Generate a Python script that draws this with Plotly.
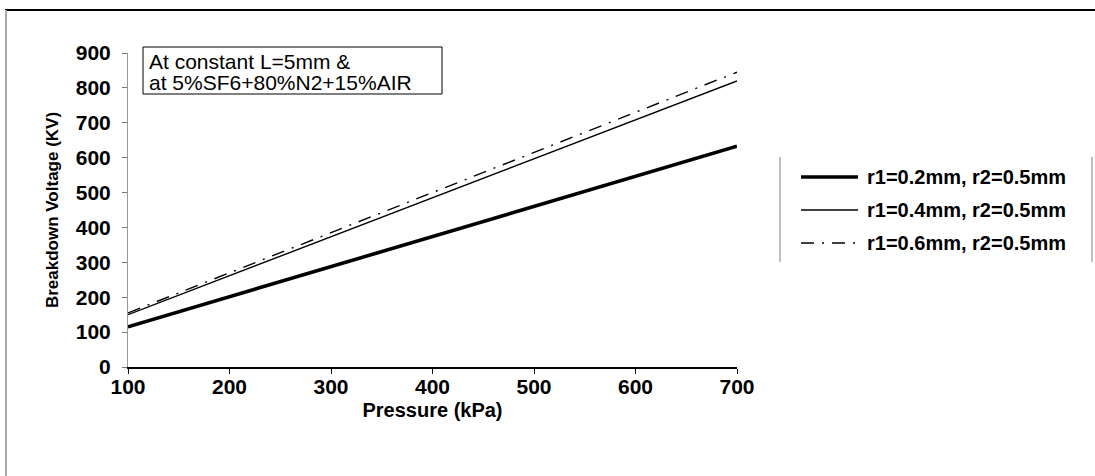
import plotly.graph_objects as go

pressure = [100, 200, 300, 400, 500, 600, 700]
v_r1_02 = [115, 201, 288, 374, 460, 547, 633]
v_r1_04 = [150, 262, 373, 485, 597, 708, 820]
v_r1_06 = [155, 270, 385, 500, 615, 730, 845]
names = ["r1=0.2mm, r2=0.5mm", "r1=0.4mm, r2=0.5mm", "r1=0.6mm, r2=0.5mm"]
note_lines = ["At constant L=5mm &", "at 5%SF6+80%N2+15%AIR"]

FONT = "Liberation Sans, Arial, sans-serif"

# plot area in px
L, R, T, B = 128, 737, 53, 367
W, H = 1095, 476
pw, ph = R - L, B - T


def px(x):
    return (x - L) / pw


def py(y):
    return (B - y) / ph


styles = [
    dict(color="black", width=3.6),
    dict(color="black", width=1.4),
    dict(color="black", width=1.4, dash="13px,8px,2px,8px"),
]
series = [v_r1_02, v_r1_04, v_r1_06]

fig = go.Figure()
for nm, ys, st in zip(names, series, styles):
    fig.add_trace(go.Scatter(x=pressure, y=ys, mode="lines", name=nm, line=st,
                             showlegend=False))

fig.update_layout(
    width=W, height=H,
    margin=dict(l=L, r=W - R, t=T, b=H - B),
    paper_bgcolor="white", plot_bgcolor="white",
    font=dict(family=FONT, color="black"),
    showlegend=False,
    xaxis=dict(range=[100, 700], tickvals=pressure, ticks="outside", ticklen=5,
               tickcolor="black", showline=True, linecolor="black", linewidth=2,
               showgrid=False, zeroline=False, ticklabelstandoff=-5,
               tickfont=dict(family=FONT, size=21, color="black", weight="bold"),
               title=dict(text="Pressure (kPa)", standoff=6,
                          font=dict(family=FONT, size=20, color="black", weight="bold"))),
    yaxis=dict(range=[0, 900], dtick=100, ticks="outside", ticklen=5,
               tickcolor="#777", showline=True, linecolor="#999", linewidth=1,
               showgrid=False, zeroline=False, ticklabelstandoff=7,
               tickfont=dict(family=FONT, size=21, color="black", weight="bold"),
               title=dict(text="Breakdown Voltage (KV)", standoff=12,
                          font=dict(family=FONT, size=17, color="black", weight="bold"))),
)

shapes = [
    # outer frame
    dict(type="line", xref="paper", yref="paper", x0=px(5), x1=px(1095), y0=py(10), y1=py(10),
         line=dict(color="black", width=2)),
    dict(type="line", xref="paper", yref="paper", x0=px(6), x1=px(6), y0=py(10), y1=py(476),
         line=dict(color="#aaa", width=2)),
    # legend side lines
    dict(type="line", xref="paper", yref="paper", x0=px(780), x1=px(780), y0=py(157), y1=py(262),
         line=dict(color="#aaa", width=1.5)),
    dict(type="line", xref="paper", yref="paper", x0=px(1092), x1=px(1092), y0=py(157), y1=py(262),
         line=dict(color="#aaa", width=1.5)),
    # annotation box
    dict(type="rect", xref="paper", yref="paper", x0=px(143), x1=px(442), y0=py(47), y1=py(94),
         line=dict(color="black", width=1), fillcolor="white", layer="below"),
]

legend_rows = [177, 210, 243]
for nm, st, ry in zip(names, styles, legend_rows):
    shapes.append(dict(type="line", xref="paper", yref="paper", x0=px(801), x1=px(858),
                       y0=py(ry), y1=py(ry), line=st))
    fig.add_annotation(xref="paper", yref="paper", x=px(865), y=py(ry), xanchor="left",
                       yanchor="middle", showarrow=False, text=nm,
                       font=dict(family=FONT, size=20, color="black", weight="bold"))

fig.update_layout(shapes=shapes)

for txt, ly in zip(note_lines, [61, 82]):
    fig.add_annotation(xref="paper", yref="paper", x=px(147), y=py(ly), xanchor="left",
                       yanchor="middle", showarrow=False, text=txt,
                       font=dict(family=FONT, size=21, color="black"))

fig.write_html("out.html")
